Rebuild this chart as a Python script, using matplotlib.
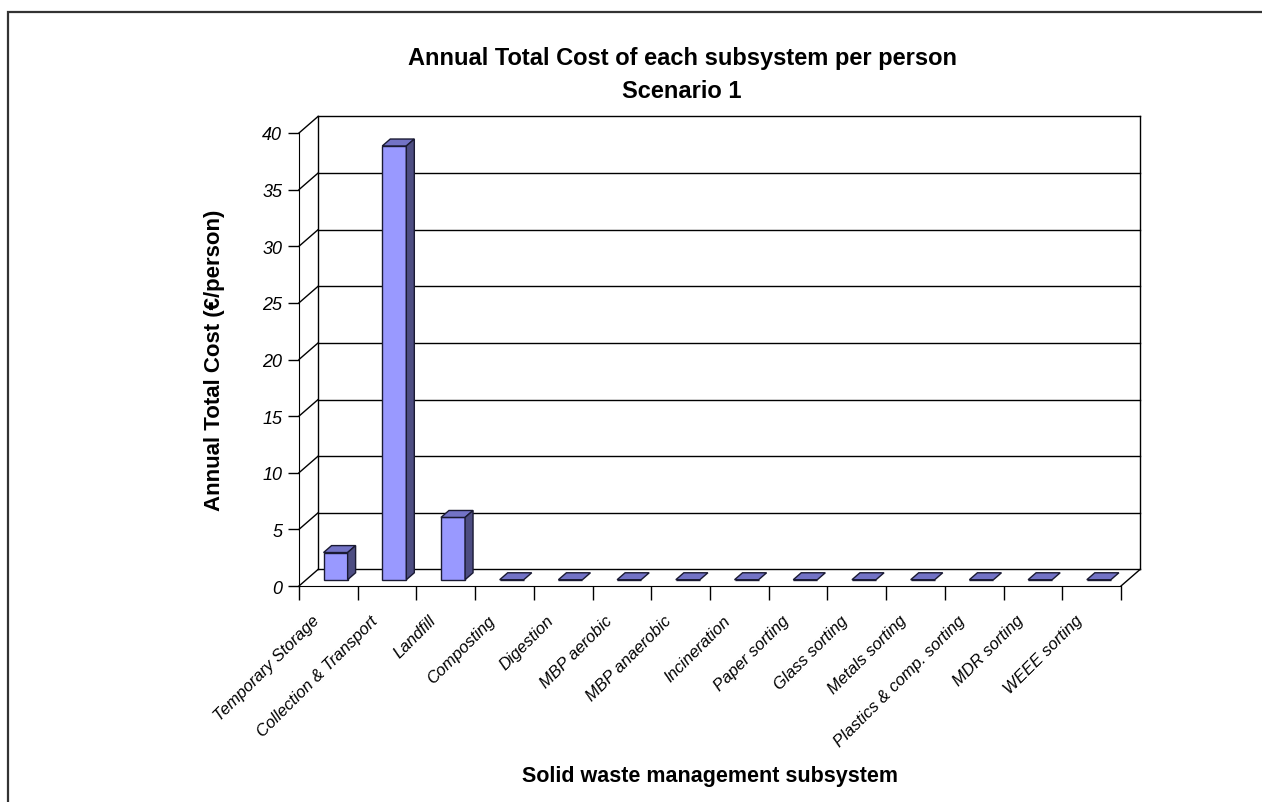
import numpy as np
import matplotlib
matplotlib.use('Agg')
import matplotlib.pyplot as plt
from matplotlib.patches import Polygon, Rectangle
from matplotlib.lines import Line2D
from matplotlib.transforms import ScaledTranslation

plt.rcParams['font.family'] = ['Liberation Sans', 'DejaVu Sans']

subsystems = ['Temporary Storage', 'Collection & Transport', 'Landfill', 'Composting',
              'Digestion', 'MBP aerobic', 'MBP anaerobic', 'Incineration',
              'Paper sorting', 'Glass sorting', 'Metals sorting',
              'Plastics & comp. sorting', 'MDR sorting', 'WEEE sorting']
cost_per_person = [2.4, 38.3, 5.5, 0, 0, 0, 0, 0, 0, 0, 0, 0, 0, 0]
y_ticks = [0, 5, 10, 15, 20, 25, 30, 35, 40]

FRONT = '#9999ff'
TOP = '#7373c6'
SIDE = '#4d4d82'
EDGE = '#1a1a33'

# depth of the pseudo-3D box, in data units (x per category, y per euro)
DX, DY = 0.324, 1.46
T0, T1 = 0.38, 0.80   # front and back depth of the bars
W = 0.41


def shift(x, y, t):
    return x + t * DX, y + t * DY


fig = plt.figure(figsize=(12.62, 8.03), dpi=100)
ax = fig.add_axes([299 / 1262, 1 - 587 / 803, 822 / 1262, 453 / 803])
n = len(subsystems)
ax.set_xlim(0, n)
ax.set_ylim(0, 40)
ax.patch.set_visible(False)
for s in ['top', 'right']:
    ax.spines[s].set_visible(False)
ax.spines['left'].set_color('black')
ax.spines['bottom'].set_color('black')

# back wall grid and side wall diagonals
for v in y_ticks:
    x0, y0 = shift(0, v, 1)
    x1, y1 = shift(n, v, 1)
    ax.add_line(Line2D([x0, x1], [y0, y1], color='black', lw=1, clip_on=False, zorder=1))
    ax.add_line(Line2D([0, x0], [v, y0], color='black', lw=1, clip_on=False, zorder=1))
for xe in [0, n]:
    xa, ya = shift(xe, 0, 1)
    xb, yb = shift(xe, 40, 1)
    ax.add_line(Line2D([xa, xb], [ya, yb], color='black', lw=1, clip_on=False, zorder=1))
xa, ya = shift(n, 0, 1)
ax.add_line(Line2D([n, xa], [0, ya], color='black', lw=1, clip_on=False, zorder=1))

# bars: front faces through ax.bar, then top and side faces
centers = np.arange(n) + 0.5
fx, fy = shift(centers, np.zeros(n), T0)
ax.bar(fx, cost_per_person, bottom=fy, width=W, color=FRONT, edgecolor=EDGE,
       linewidth=1, clip_on=False, zorder=3)
ddx, ddy = (T1 - T0) * DX, (T1 - T0) * DY
for xc, base, v in zip(fx, fy, cost_per_person):
    xl, xr = xc - W / 2, xc + W / 2
    top = base + v
    ax.add_patch(Polygon([(xl, top), (xr, top), (xr + ddx, top + ddy), (xl + ddx, top + ddy)],
                         closed=True, facecolor=TOP, edgecolor=EDGE, lw=1,
                         clip_on=False, zorder=3))
    if v > 0:
        ax.add_patch(Polygon([(xr, base), (xr, top), (xr + ddx, top + ddy), (xr + ddx, base + ddy)],
                             closed=True, facecolor=SIDE, edgecolor=EDGE, lw=1,
                             clip_on=False, zorder=3))

ax.set_yticks(y_ticks)
ax.set_yticklabels([str(v) for v in y_ticks], fontsize=13, style='italic')
ax.tick_params(axis='y', direction='out', length=8, width=1, pad=4)

ax.set_xticks(np.arange(n + 1), minor=True)
ax.set_xticks(centers)
ax.set_xticklabels(subsystems, rotation=45, ha='right', va='top',
                   rotation_mode='anchor', fontsize=12, style='italic')
ax.tick_params(axis='x', which='minor', direction='out', length=10, width=1)
ax.tick_params(axis='x', which='major', length=0, pad=14)
nudge = ScaledTranslation(-17 / 100, -7 / 100, fig.dpi_scale_trans)
for lbl in ax.get_xticklabels():
    lbl.set_transform(lbl.get_transform() + nudge)

ax.set_ylabel('Annual Total Cost (\u20ac/person)', fontsize=16, fontweight='bold')
ax.yaxis.set_label_coords(-0.090, 0.5)
ax.set_xlabel('Solid waste management subsystem', fontsize=15.5, fontweight='bold')
ax.xaxis.set_label_coords(0.5, -0.395)

fig.text(682 / 1262, 1 - 59 / 803, 'Annual Total Cost of each subsystem per person',
         ha='center', va='center', fontsize=17, fontweight='bold')
fig.text(682 / 1262, 1 - 91 / 803, 'Scenario 1',
         ha='center', va='center', fontsize=17, fontweight='bold')

# chart area border
fig.add_artist(Rectangle((8 / 1262, -0.2), 1.5, 1.2 - 13 / 803, transform=fig.transFigure,
                         fill=False, edgecolor='#333333', lw=1.6))

fig.savefig('out.png', dpi=100)
